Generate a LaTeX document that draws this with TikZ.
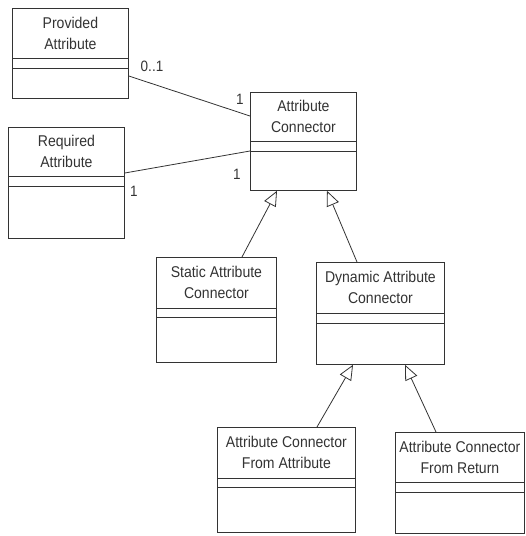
\documentclass[tikz,border=0pt]{standalone}
\usepackage{fontspec}
\setmainfont[FakeStretch=0.9]{Liberation Sans}
\usetikzlibrary{arrows.meta,calc}
\definecolor{ink}{HTML}{333333}
\tikzset{
  cls/.style={draw=ink, line width=0.8pt, rectangle, inner sep=0pt, anchor=north west},
  ttl/.style={text=ink, align=center, font=\fontsize{15.6}{21}\selectfont, inner sep=0pt},
  mult/.style={text=ink, font=\fontsize{15}{16}\selectfont, inner sep=0pt},
  assoc/.style={draw=ink, line width=0.8pt},
  gen/.style={draw=ink, line width=0.8pt, -{Triangle[open, length=15pt, width=13pt]}},
  sep/.style={draw=ink, line width=0.8pt}
}
% \umlcls{name}{x1}{y1}{x2}{y2}{div1 offset}{div2 offset}{text}
\newcommand{\umlcls}[8]{%
  \node[cls, minimum width=#4-#2, minimum height=#5-#3] (#1) at (#2,#3) {};
  \node[ttl] (#1-t) at ($(#1.north)+(0,#6/2)$) {#8};
  \draw[sep] ($(#1.north west)+(0,#6)$) -- ($(#1.north east)+(0,#6)$);
  \draw[sep] ($(#1.north west)+(0,#7)$) -- ($(#1.north east)+(0,#7)$);
}
\begin{document}
\begin{tikzpicture}[x=1pt, y=-1pt]
\useasboundingbox (0,0) rectangle (526,536);
\umlcls{pa}{12}{8}{128}{98}{50}{60}{Provided\\Attribute}
\umlcls{ra}{8}{127}{124}{238}{49}{59}{Required\\Attribute}
\umlcls{ac}{250}{92}{356}{190}{49}{59}{Attribute\\Connector}
\umlcls{sac}{156}{257}{276}{362}{51}{60}{Static Attribute\\Connector}
\umlcls{dac}{316}{262}{444}{364}{51}{61}{Dynamic Attribute\\Connector}
\umlcls{acfa}{217}{427}{355}{532}{51}{60}{Attribute Connector\\From Attribute}
\umlcls{acfr}{395}{432}{524}{533}{50}{60}{Attribute Connector\\From Return}

% associations
\draw[assoc] ($(pa.north east)+(0,68)$) -- ($(ac.north west)+(0,24)$);
\draw[assoc] ($(ra.north east)+(0,46)$) -- ($(ac.north west)+(0,59)$);
\node[mult] (m1) at (152,66) {0..1};
\node[mult] (m2) at (240,99) {1};
\node[mult] (m3) at (134,191) {1};
\node[mult] (m4) at (237,174) {1};

% generalizations
\draw[gen] ($(sac.north west)+(86,0)$) -- ($(ac.south west)+(27,0)$);
\draw[gen] ($(dac.north west)+(41,0)$) -- ($(ac.south west)+(77,0)$);
\draw[gen] ($(acfa.north west)+(100,0)$) -- ($(dac.south west)+(37,0)$);
\draw[gen] ($(acfr.north west)+(41,0)$) -- ($(dac.south west)+(89,0)$);
\end{tikzpicture}
\end{document}
